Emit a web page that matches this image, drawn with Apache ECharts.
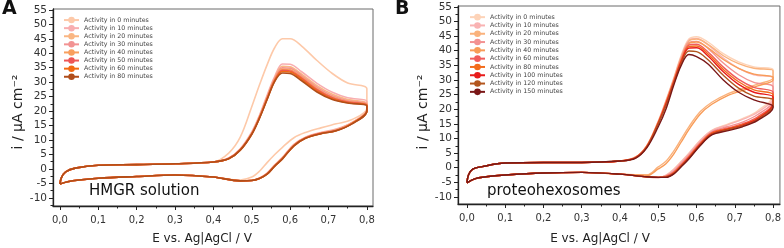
<!DOCTYPE html>
<html>
<head>
<meta charset="utf-8">
<script src="https://cdn.jsdelivr.net/npm/echarts@6/dist/echarts.min.js"></script>
<style>
  body { margin: 0; background: #fff; }
  .panel { position: absolute; top: 0; width: 392px; height: 248px; }
  #chartA { left: 0; }
  #chartB { left: 392px; }
</style>
</head>
<body>
<div id="chartA" class="panel"></div>
<div id="chartB" class="panel"></div>
<script>
// potential grids (V) shared by every voltammogram
const lowFwdE  = [0, 0.004, 0.015, 0.04, 0.1, 0.2, 0.3, 0.4];
const highFwdE = [0.44, 0.47, 0.5, 0.52, 0.54, 0.56, 0.58, 0.6, 0.63, 0.67, 0.71, 0.75, 0.8];
const highRevE = [0.8, 0.76, 0.72, 0.68, 0.64, 0.61, 0.58, 0.56, 0.54, 0.52, 0.5, 0.47];
const lowRevE  = [0.4, 0.3, 0.2, 0.1, 0.05, 0.02, 0];

const xTicks = [0, 0.1, 0.2, 0.3, 0.4, 0.5, 0.6, 0.7, 0.8];
const xMinor = [0.05, 0.15, 0.25, 0.35, 0.45, 0.55, 0.65, 0.75];
const yTicks = [-10, -5, 0, 5, 10, 15, 20, 25, 30, 35, 40, 45, 50, 55];
const yMinor = [-12.5, -7.5, -2.5, 2.5, 7.5, 12.5, 17.5, 22.5, 27.5, 32.5, 37.5, 42.5, 47.5, 52.5];

// ---- panel A : HMGR solution ----
const namesA  = ['Activity in 0 minutes', 'Activity in 10 minutes', 'Activity in 20 minutes', 'Activity in 30 minutes',
                 'Activity in 40 minutes', 'Activity in 50 minutes', 'Activity in 60 minutes', 'Activity in 80 minutes'];
const colorsA = ['#fdc9a9', '#f8aeb0', '#fab683', '#f29393', '#f89f5e', '#ee5656', '#f26a12', '#b04d1a'];
const lowFwdA = [-5.2, -3, -1, 0.3, 1.3, 1.5, 1.8, 2.4];
const lowRevA = [-2.8, -2.1, -2.6, -3.2, -3.8, -4.4, -5.2];
const fwdA = [
  [5.5, 11, 21.5, 29, 36, 42, 45, 45, 42.5, 37.5, 33, 29.7, 27.7],
  [3.8, 7, 12.8, 18.5, 25.5, 32, 36.3, 36.2, 33.6, 29.6, 26.5, 24.6, 23.4],
  [3.7, 6.8, 12.5, 18.2, 25, 31.5, 35.5, 35.3, 32.8, 28.8, 25.8, 24, 22.8],
  [3.7, 6.7, 12.3, 18, 24.8, 31.2, 35, 34.8, 32.3, 28.3, 25.3, 23.6, 22.5],
  [3.6, 6.6, 12.2, 17.8, 24.5, 30.9, 34.5, 34.3, 31.8, 27.8, 24.9, 23.3, 22.3],
  [3.6, 6.6, 12.1, 17.7, 24.3, 30.7, 34.1, 33.9, 31.4, 27.4, 24.6, 23.1, 22.1],
  [3.5, 6.5, 12, 17.6, 24.1, 30.5, 33.7, 33.5, 31, 27, 24.3, 22.9, 22],
  [3.5, 6.5, 12, 17.5, 24, 30.3, 33.2, 33, 30.5, 26.6, 24, 22.8, 21.8]
];
const revA = [
  [21, 17, 15.6, 14.2, 12.6, 10.8, 7.5, 5, 2.2, -0.8, -2.8, -3.8],
  [20.6, 16, 13.8, 12.6, 11, 8.5, 4, 1.4, -1.4, -3.1, -3.9, -4.1],
  [20.4, 15.9, 13.6, 12.5, 10.9, 8.4, 3.9, 1.3, -1.5, -3.2, -3.9, -4.1],
  [20.3, 15.8, 13.5, 12.4, 10.8, 8.3, 3.8, 1.2, -1.6, -3.2, -4, -4.1],
  [20.2, 15.7, 13.4, 12.3, 10.7, 8.2, 3.7, 1.1, -1.7, -3.3, -4, -4.1],
  [20.1, 15.6, 13.3, 12.3, 10.7, 8.1, 3.6, 1.1, -1.7, -3.3, -4, -4.1],
  [20, 15.6, 13.2, 12.2, 10.6, 8, 3.5, 1, -1.8, -3.3, -4, -4.1],
  [20, 15.5, 13.2, 12.2, 10.6, 8, 3.5, 1, -1.8, -3.3, -4, -4.1]
];

// ---- panel B : proteohexosomes ----
const namesB  = ['Activity in 0 minutes', 'Activity in 10 minutes', 'Activity in 20 minutes', 'Activity in 30 minutes',
                 'Activity in 40 minutes', 'Activity in 60 minutes', 'Activity in 80 minutes', 'Activity in 100 minutes',
                 'Activity in 120 minutes', 'Activity in 150 minutes'];
const colorsB = ['#fdd3b8', '#f9b3b3', '#fab27c', '#f39292', '#f89c58', '#f05c5c', '#f36c1c', '#e81b1b', '#b3561e', '#7a1717'];
const lowFwdB = [-5.1, -2.5, -0.5, 0.4, 1.6, 1.8, 1.8, 2.3];
const lowRevB = [-2.2, -1.6, -1.8, -2.5, -3.1, -3.8, -5.2];
const fwdB = [
  [3.6, 7.6, 16, 23, 30.5, 38.5, 44, 44.8, 43, 39, 36.2, 34.5, 33.6],
  [3.6, 7.5, 15.8, 22.7, 30.2, 38, 43.6, 44.2, 42, 37.5, 34, 31.8, 30.6],
  [3.6, 7.5, 15.7, 22.6, 30, 37.8, 43.3, 44, 42.2, 38.3, 35.6, 34, 33.2],
  [3.5, 7.4, 15.6, 22.4, 29.8, 37.4, 42.8, 43.2, 40.8, 35.8, 31.8, 29.2, 27.6],
  [3.5, 7.4, 15.5, 22.3, 29.6, 37.1, 42.4, 43, 41, 37, 34, 32, 31],
  [3.5, 7.3, 15.4, 22.1, 29.4, 36.8, 41.9, 42.2, 39.6, 34.4, 30.2, 27.5, 25.8],
  [3.4, 7.2, 15.3, 21.9, 29.2, 36.5, 41.4, 41.6, 38.9, 33.6, 29.4, 26.6, 25],
  [3.4, 7.1, 15.2, 21.7, 29, 36.2, 40.9, 41, 38.2, 32.8, 28.5, 25.8, 24.2],
  [3.3, 7, 15, 21.2, 28.6, 35.6, 39.9, 39.7, 36.9, 31.6, 27.2, 24.5, 23.2],
  [3.2, 6.8, 14, 20, 28, 35, 38.7, 38, 35.5, 30, 25.8, 23.2, 21]
];
const revB = [
  [25, 19.5, 16.8, 14.8, 12.8, 9.5, 5, 2.2, -0.5, -2.5, -3.4, -3.2],
  [24, 19, 16.5, 14.6, 12.7, 9.3, 4.8, 2, -0.7, -2.6, -3.4, -3.2],
  [30.8, 28.6, 27, 25.2, 22.4, 19.2, 14, 9.8, 5.6, 2.2, 0.3, -2.4],
  [23, 18.2, 15.6, 14, 12.3, 8.8, 4.3, 1.5, -1.2, -2.8, -3.3, -3.1],
  [30, 28, 26.4, 24.6, 21.7, 18.4, 13, 8.8, 4.6, 1.4, -0.4, -2.7],
  [22.2, 17.4, 15, 13.5, 12, 8.4, 3.8, 1, -1.6, -3, -3.3, -3.1],
  [22, 17, 14.7, 13.3, 11.8, 8.2, 3.6, 0.8, -1.8, -3.1, -3.3, -3.1],
  [21.8, 16.8, 14.5, 13.1, 11.6, 8, 3.4, 0.6, -2, -3.2, -3.3, -3.1],
  [21.2, 16.5, 14.3, 12.9, 11.4, 7.8, 3.2, 0.5, -2.1, -3.2, -3.3, -3.1],
  [20.5, 16.2, 14, 12.6, 11.2, 7.6, 3, 0.3, -2.2, -3.3, -3.3, -3.1]
];

const FONT = 'DejaVu Sans';

function loop(lowFwd, fwd, rev, lowRev) {
  const pts = [];
  lowFwdE.forEach((e, i) => pts.push([e, lowFwd[i]]));
  highFwdE.forEach((e, i) => pts.push([e, fwd[i]]));
  highRevE.forEach((e, i) => pts.push([e, rev[i]]));
  lowRevE.forEach((e, i) => pts.push([e, lowRev[i]]));
  return pts;
}

function buildOption(cfg) {
  const series = cfg.names.map((n, k) => ({
    name: n,
    type: 'line',
    xAxisIndex: 0, yAxisIndex: 0,
    symbol: 'none',
    smooth: 0.35,
    lineStyle: { width: cfg.lineWidth, color: cfg.colors[k] },
    itemStyle: { color: cfg.colors[k] },
    data: loop(cfg.lowFwd, cfg.fwd[k], cfg.rev[k], cfg.lowRev),
    z: 2 + k
  }));
  const xBase = { type: 'value', position: 'bottom', min: cfg.xMin, max: cfg.xMax, splitLine: { show: false } };
  const yBase = { type: 'value', position: 'left', min: cfg.yMin, max: cfg.yMax, splitLine: { show: false } };
  return {
    animation: false,
    grid: { left: cfg.grid[0], top: cfg.grid[1], width: cfg.grid[2], height: cfg.grid[3],
            show: true, borderColor: '#6a6a6a', borderWidth: 1 },
    legend: {
      orient: 'vertical', left: cfg.legend[0], top: cfg.legend[1],
      itemWidth: 15, itemHeight: cfg.legend[2], itemGap: 0,
      textStyle: { fontFamily: FONT, fontSize: 6.3, color: '#444', lineHeight: cfg.legend[2] },
      data: cfg.names
    },
    xAxis: [
      Object.assign({}, xBase, {
        axisLine: { onZero: false, lineStyle: { color: '#222', width: 1.3 } },
        axisTick: { customValues: xTicks, length: 4, lineStyle: { color: '#222' } },
        axisLabel: { customValues: xTicks, margin: 9, fontFamily: FONT, fontSize: 10, color: '#333',
                     formatter: v => v.toFixed(1).replace('.', ',') }
      }),
      Object.assign({}, xBase, {
        axisLine: { show: false, onZero: false },
        axisTick: { customValues: xMinor, length: 2.5, lineStyle: { color: '#222' } },
        axisLabel: { show: false }
      })
    ],
    yAxis: [
      Object.assign({}, yBase, {
        axisLine: { onZero: false, lineStyle: { color: '#222', width: 1.3 } },
        axisTick: { customValues: yTicks, length: 4, lineStyle: { color: '#222' } },
        axisLabel: { customValues: yTicks, margin: 6, fontFamily: FONT, fontSize: 10.5, color: '#333' }
      }),
      Object.assign({}, yBase, {
        axisLine: { show: false, onZero: false },
        axisTick: { customValues: yMinor.filter(v => v > cfg.yMin), length: 2.5, lineStyle: { color: '#222' } },
        axisLabel: { show: false }
      })
    ],
    graphic: [
      { type: 'text', left: cfg.letterX, top: 0,
        style: { text: cfg.letter, font: 'bold 19px ' + FONT, fill: '#111' } },
      { type: 'text', left: cfg.noteX, top: 184,
        style: { text: cfg.note, font: '15px ' + FONT, fill: '#111' } },
      { type: 'text', x: cfg.gridCx, y: 239,
        style: { text: 'E vs. Ag|AgCl / V', font: '12px ' + FONT, fill: '#222', align: 'center', verticalAlign: 'middle' } },
      { type: 'text', x: cfg.yTitleX, y: 112, rotation: Math.PI / 2,
        style: { text: 'i / µA cm⁻²', font: '14px ' + FONT, fill: '#222', align: 'center', verticalAlign: 'middle' } }
    ],
    series: series
  };
}

const chartA = echarts.init(document.getElementById('chartA'), null, { renderer: 'canvas' });
chartA.setOption(buildOption({
  names: namesA, colors: colorsA, lowFwd: lowFwdA, lowRev: lowRevA, fwd: fwdA, rev: revA,
  lineWidth: 1.6,
  grid: [53, 9, 320, 197], xMin: -0.018, xMax: 0.816, yMin: -12.8, yMax: 55.3,
  legend: [58, 11, 8.1],
  letter: 'A', letterX: 2, note: 'HMGR solution', noteX: 89, gridCx: 202, yTitleX: 18
}));

const chartB = echarts.init(document.getElementById('chartB'), null, { renderer: 'canvas' });
chartB.setOption(buildOption({
  names: namesB, colors: colorsB, lowFwd: lowFwdB, lowRev: lowRevB, fwd: fwdB, rev: revB,
  lineWidth: 1.4,
  grid: [66, 6, 324, 198], xMin: -0.0234, xMax: 0.818, yMin: -12.4, yMax: 55.3,
  legend: [72, 8, 8.3],
  letter: 'B', letterX: 3, note: 'proteohexosomes', noteX: 95, gridCx: 208, yTitleX: 31
}));
</script>
</body>
</html>
